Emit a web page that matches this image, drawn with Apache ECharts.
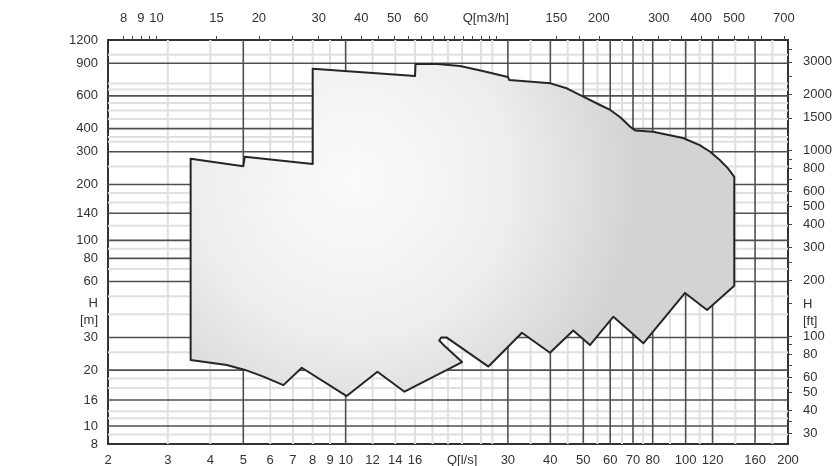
<!DOCTYPE html>
<html><head><meta charset="utf-8">
<script src="https://cdn.jsdelivr.net/npm/echarts@6/dist/echarts.min.js"></script>
<style>html,body{margin:0;padding:0;background:#fff}#c{width:836px;height:466px}</style>
</head><body><div id="c"></div>
<script>
// ---- axis ranges ----
const flowLsRange = [2, 200];          // Q [l/s]
const flowM3hRange = [7.2, 720];       // Q [m3/h] = 3.6 * l/s
const headMRange = [8, 1200];          // H [m]
const headFtRange = [26.247, 3937];    // H [ft] = 3.2808 * m

// ---- tick labels ----
const bottomLabelValues = [2, 3, 4, 5, 6, 7, 8, 9, 10, 12, 14, 16, 22, 30, 40, 50, 60, 70, 80, 100, 120, 160, 200];
const bottomLabelTexts  = ['2','3','4','5','6','7','8','9','10','12','14','16','Q[l/s]','30','40','50','60','70','80','100','120','160','200'];
const topLabelValues = [8, 9, 10, 15, 20, 30, 40, 50, 60, 93, 150, 200, 300, 400, 500, 700];
const topLabelTexts  = ['8','9','10','15','20','30','40','50','60','Q[m3/h]','150','200','300','400','500','700'];
const topTickValues = [8, 8.5, 9, 9.5, 10, 15, 20, 25, 30, 35, 40, 45, 50, 55, 60, 65, 70, 75, 80, 85, 90, 95, 100, 150, 175, 200, 250, 300, 350, 400, 450, 500, 550, 600, 700];
const leftLabelValues = [1200, 900, 600, 400, 300, 200, 140, 100, 80, 60, 41, 30, 20, 13.8, 10, 8];
const leftLabelTexts  = ['1200','900','600','400','300','200','140','100','80','60','H\n[m]','30','20','16','10','8'];
const rightLabelValues = [3000, 2000, 1500, 1000, 800, 600, 500, 400, 300, 200, 134, 100, 80, 60, 50, 40, 30];
const rightLabelTexts  = ['3000','2000','1500','1000','800','600','500','400','300','200','H\n[ft]','100','80','60','50','40','30'];
const rightTickValues = [3500, 3000, 2500, 2000, 1500, 1000, 900, 800, 700, 600, 500, 400, 300, 250, 200, 150, 100, 90, 80, 70, 60, 50, 40, 35, 30];

// ---- grid lines ----
const gridQDark  = [5, 10, 30, 40, 50, 60, 70, 80, 100, 120, 160];
const gridQLight = [3, 4, 6, 7, 8, 9, 12, 14, 16, 18, 20, 22, 25, 27, 35, 45, 55, 65, 75, 90, 110, 140, 180];
const gridHDark  = [900, 600, 400, 300, 200, 140, 100, 80, 60, 30, 20, 13.8, 10];
const gridHLight = [1000, 700, 650, 550, 500, 450, 360, 340, 250, 180, 160, 120, 90, 70, 50, 40, 25, 18, 16, 12, 11, 9];

// ---- performance range outline (Q l/s, H m) ----
const rangeQ = [3.5, 5.0, 5.05, 8.0, 8.0, 16.0, 16.05, 18.6, 21.7, 25.3, 30.0, 30.3, 40.0, 44.7, 50.0, 56.0, 60.0, 64.1, 68.6, 71.0, 80.2, 98.2, 110, 118, 126, 133, 139,
                139, 115.6, 99.6, 75.1, 61.3, 52.3, 46.7, 39.9, 33.0, 26.3, 19.8, 19.1, 18.85, 19.3, 22.0, 14.9, 12.4, 10.07, 7.43, 6.56, 5.73, 5.06, 4.47, 3.5];
const rangeH = [275, 251, 282, 258, 840, 768, 891, 891, 870, 817, 758, 731, 701, 659, 594, 536, 504, 462, 410, 391, 385, 356, 326, 300, 271, 245, 220,
                57, 42.2, 52.1, 27.9, 38.8, 27.3, 32.7, 24.8, 31.8, 20.9, 30.0, 30.0, 28.9, 27.6, 22.1, 15.3, 19.6, 14.5, 20.6, 16.6, 18.45, 20.05, 21.3, 22.7];

const FONT = 'Liberation Sans, Arial, sans-serif';
const TXT = '#333';
function lookup(values, texts) {
  return function (v) {
    for (let i = 0; i < values.length; i++) {
      if (Math.abs(values[i] - v) <= 1e-6 * Math.max(1, Math.abs(v))) return texts[i];
    }
    return '';
  };
}
const labelBase = { color: TXT, fontFamily: FONT, fontSize: 13, lineHeight: 17, hideOverlap: false, showMinLabel: true, showMaxLabel: true };
const lineBase = { show: true, onZero: false, lineStyle: { color: '#333', width: 2 } };

function vLineSeries(values, color, width, z) {
  return {
    type: 'custom', z: z, silent: true, xAxisIndex: 0, yAxisIndex: 0,
    data: values.map(v => [v, headMRange[0]]),
    renderItem: function (params, api) {
      const cs = params.coordSys;
      const x = api.coord([api.value(0), headMRange[0]])[0];
      return { type: 'line', shape: { x1: x, y1: cs.y, x2: x, y2: cs.y + cs.height }, style: { stroke: color, lineWidth: width } };
    }
  };
}
function hLineSeries(values, color, width, z) {
  return {
    type: 'custom', z: z, silent: true, xAxisIndex: 0, yAxisIndex: 0,
    data: values.map(v => [flowLsRange[0], v]),
    renderItem: function (params, api) {
      const cs = params.coordSys;
      const y = api.coord([flowLsRange[0], api.value(1)])[1];
      return { type: 'line', shape: { x1: cs.x, y1: y, x2: cs.x + cs.width, y2: y }, style: { stroke: color, lineWidth: width } };
    }
  };
}

const chart = echarts.init(document.getElementById('c'), null, { renderer: 'canvas' });
chart.setOption({
  animation: false,
  backgroundColor: '#fff',
  grid: { left: 108, right: 48, top: 40, bottom: 22, containLabel: false, outerBoundsMode: 'none' },
  xAxis: [
    { type: 'log', logBase: 10, position: 'bottom', min: flowLsRange[0], max: flowLsRange[1],
      axisLine: lineBase, axisTick: { show: false }, splitLine: { show: false }, minorTick: { show: false },
      axisLabel: Object.assign({}, labelBase, { margin: 8, customValues: bottomLabelValues, formatter: lookup(bottomLabelValues, bottomLabelTexts) }) },
    { type: 'log', logBase: 10, position: 'top', min: flowM3hRange[0], max: flowM3hRange[1],
      axisLine: lineBase, splitLine: { show: false }, minorTick: { show: false },
      axisTick: { show: true, length: 4, customValues: topTickValues, lineStyle: { color: '#444', width: 1 } },
      axisLabel: Object.assign({}, labelBase, { margin: 13, customValues: topLabelValues, formatter: lookup(topLabelValues, topLabelTexts) }) }
  ],
  yAxis: [
    { type: 'log', logBase: 10, position: 'left', min: headMRange[0], max: headMRange[1],
      axisLine: lineBase, axisTick: { show: false }, splitLine: { show: false }, minorTick: { show: false },
      axisLabel: Object.assign({}, labelBase, { margin: 10, customValues: leftLabelValues, formatter: lookup(leftLabelValues, leftLabelTexts) }) },
    { type: 'log', logBase: 10, position: 'right', min: headFtRange[0], max: headFtRange[1],
      axisLine: lineBase, splitLine: { show: false }, minorTick: { show: false },
      axisTick: { show: true, length: 4, customValues: rightTickValues, lineStyle: { color: '#444', width: 1 } },
      axisLabel: Object.assign({}, labelBase, { margin: 15, customValues: rightLabelValues, formatter: lookup(rightLabelValues, rightLabelTexts) }) }
  ],
  series: [
    vLineSeries(gridQLight, '#e0e0e0', 2, 1),
    hLineSeries(gridHLight, '#e0e0e0', 2, 1),
    vLineSeries(gridQDark, '#505050', 1.6, 2),
    hLineSeries(gridHDark, '#505050', 1.6, 2),
    {
      type: 'custom', z: 5, silent: true, xAxisIndex: 0, yAxisIndex: 0,
      data: [[rangeQ[0], rangeH[0]]],
      renderItem: function (params, api) {
        const pts = rangeQ.map((q, i) => api.coord([q, rangeH[i]]));
        return {
          type: 'polygon',
          shape: { points: pts },
          style: {
            fill: new echarts.graphic.RadialGradient(0.3, 0.35, 0.85, [
              { offset: 0, color: '#fbfbfb' },
              { offset: 0.55, color: '#eeeeee' },
              { offset: 1, color: '#d3d3d3' }
            ]),
            stroke: '#262626', lineWidth: 2, lineJoin: 'round'
          }
        };
      }
    }
  ]
});
</script>
</body></html>
